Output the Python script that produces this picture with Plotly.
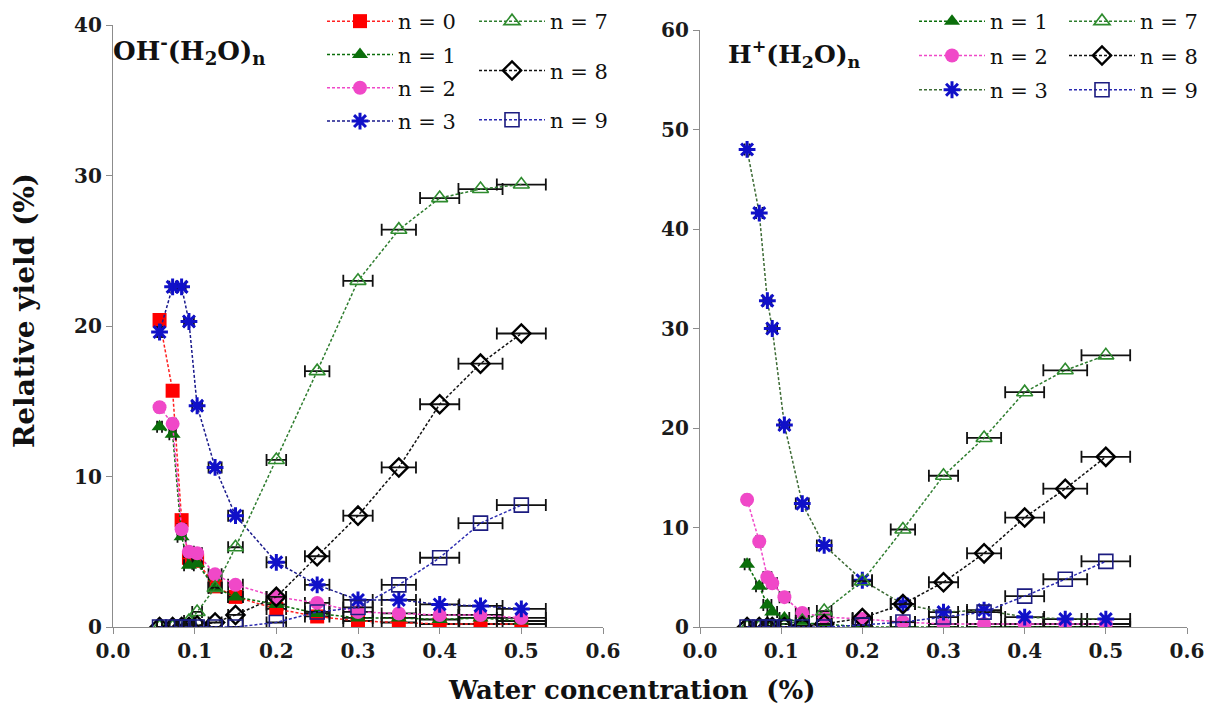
import plotly.graph_objects as go

# ---------------- data ----------------
x_left = [0.057, 0.073, 0.084, 0.093, 0.103, 0.125, 0.15, 0.2, 0.25, 0.3, 0.35, 0.4, 0.45, 0.5]
x_right = [0.058, 0.073, 0.083, 0.089, 0.104, 0.126, 0.153, 0.2, 0.25, 0.3, 0.35, 0.4, 0.45, 0.5]
x_err = [0.003, 0.004, 0.005, 0.006, 0.006, 0.008, 0.009, 0.012, 0.015, 0.018, 0.021, 0.024, 0.027, 0.03]

oh_n0 = [20.4, 15.7, 7.1, 4.6, 4.4, 2.7, 2.0, 1.2, 0.7, 0.4, 0.3, 0.2, 0.2, 0.2]
oh_n1 = [13.3, 12.8, 6.0, 4.1, 4.2, 2.6, 2.0, 1.5, 0.9, 0.6, 0.6, 0.5, 0.6, 0.4]
oh_n2 = [14.6, 13.5, 6.5, 5.0, 4.9, 3.5, 2.8, 2.0, 1.6, 1.0, 0.9, 0.8, 0.8, 0.6]
oh_n3 = [19.6, 22.6, 22.6, 20.3, 14.7, 10.6, 7.4, 4.3, 2.8, 1.8, 1.8, 1.5, 1.4, 1.2]
oh_n7 = [0.0, 0.0, 0.1, 0.4, 1.0, 2.6, 5.3, 11.1, 17.0, 23.0, 26.4, 28.5, 29.1, 29.4]
oh_n8 = [0.0, 0.0, 0.0, 0.0, 0.1, 0.3, 0.8, 2.0, 4.7, 7.4, 10.6, 14.8, 17.5, 19.5]
oh_n9 = [0.0, 0.0, 0.0, 0.0, 0.0, 0.0, 0.0, 0.3, 1.0, 1.3, 2.8, 4.6, 6.9, 8.1]

h_n1 = [6.3, 4.1, 2.2, 1.5, 0.9, 0.4, 0.3, 0.0, 0.0, 0.0, 0.0, 0.0, 0.0, 0.0]
h_n2 = [12.8, 8.6, 5.0, 4.4, 3.0, 1.4, 1.0, 0.8, 0.5, 0.3, 0.3, 0.3, 0.3, 0.3]
h_n3 = [48.0, 41.6, 32.8, 30.0, 20.3, 12.4, 8.2, 4.7, 2.3, 1.5, 1.7, 1.0, 0.8, 0.8]
h_n7 = [0.0, 0.0, 0.0, 0.1, 0.3, 0.6, 1.6, 4.6, 9.8, 15.2, 19.0, 23.6, 25.8, 27.3]
h_n8 = [0.0, 0.0, 0.0, 0.0, 0.0, 0.1, 0.3, 0.9, 2.3, 4.5, 7.4, 11.0, 13.9, 17.1]
h_n9 = [0.0, 0.0, 0.0, 0.0, 0.0, 0.0, 0.0, 0.2, 0.5, 1.0, 1.5, 3.1, 4.8, 6.6]

labels = ["n = 0", "n = 1", "n = 2", "n = 3", "n = 7", "n = 8", "n = 9"]

# ---------------- styles ----------------
FONT = "DejaVu Serif"
W, H = 1226, 715

style = {
    "n = 0": dict(symbol="square", color="#ff0000", line="#ff2020", lw=0),
    "n = 1": dict(symbol="triangle-up", color="#0b6e0b", line="#0b6e0b", lw=0),
    "n = 2": dict(symbol="circle", color="#f048c8", line="#f048c8", lw=0),
    "n = 3": dict(symbol="asterisk-open", color="#1010c8", line="#1a1a8c", lw=3),
    "n = 7": dict(symbol="triangle-up-open", color="#2e8b2e", line="#2e7d2e", lw=1.6),
    "n = 8": dict(symbol="diamond-open", color="#000000", line="#111111", lw=2.4),
    "n = 9": dict(symbol="square-open", color="#1c1c80", line="#2a2ab0", lw=1.6),
}

fig = go.Figure()


def add(xv, yv, lab, xa, ya, legend, group, line_color=None):
    s = style[lab]
    fig.add_trace(go.Scatter(
        x=xv, y=yv, mode="lines+markers", name=lab,
        xaxis=xa, yaxis=ya, legend=legend, legendgroup=group,
        line=dict(color=line_color or s["line"], width=1.5, dash="3px,2px"),
        marker=dict(symbol=s["symbol"], size=14, color=s["color"],
                    line=dict(color=s["color"], width=s["lw"])),
        error_x=dict(type="data", array=x_err, visible=True, color="#111111",
                     thickness=1.8, width=6),
    ))


left_series = [oh_n0, oh_n1, oh_n2, oh_n3, oh_n7, oh_n8, oh_n9]
for i, (lab, vals) in enumerate(zip(labels, left_series)):
    leg = "legend" if i < 4 else "legend2"
    add(x_left, vals, lab, "x", "y", leg, "L" + lab)

right_series = [h_n1, h_n2, h_n3, h_n7, h_n8, h_n9]
for i, (lab, vals) in enumerate(zip(labels[1:], right_series)):
    leg = "legend3" if i < 3 else "legend4"
    lc = "#3d6b35" if lab == "n = 3" else None
    add(x_right, vals, lab, "x2", "y2", leg, "R" + lab, line_color=lc)


def px_x(p):
    return p / W


def px_y(p):
    return 1 - p / H


tick_font = dict(family=FONT, size=20, color="#1a1a1a", weight="bold")
axis_common = dict(showgrid=False, zeroline=False, showline=True, linecolor="#8c8c8c",
                   linewidth=1.2, ticks="outside", ticklen=6, tickcolor="#8c8c8c",
                   tickfont=tick_font, automargin=False)

leg_common = dict(font=dict(family=FONT, size=21, color="#111111"), bgcolor="rgba(0,0,0,0)",
                  traceorder="grouped", itemwidth=66, xanchor="left", yanchor="top",
                  borderwidth=0)

fig.update_layout(
    width=W, height=H,
    margin=dict(l=0, r=0, t=0, b=0, autoexpand=False),
    paper_bgcolor="white", plot_bgcolor="white",
    xaxis=dict(domain=[px_x(105), px_x(595)], range=[0, 0.6], dtick=0.1, tickformat=".1f",
               anchor="y", **axis_common),
    yaxis=dict(domain=[px_y(619), px_y(17)], range=[0, 40], dtick=10, anchor="x", **axis_common),
    xaxis2=dict(domain=[px_x(692), px_x(1179)], range=[0, 0.6], dtick=0.1, tickformat=".1f",
                anchor="y2", **axis_common),
    yaxis2=dict(domain=[px_y(619), px_y(22)], range=[0, 60], dtick=10, anchor="x2", **axis_common),
    legend=dict(x=px_x(314), y=px_y(-7), tracegroupgap=3, **leg_common),
    legend2=dict(x=px_x(466), y=px_y(-7), tracegroupgap=19, **leg_common),
    legend3=dict(x=px_x(906), y=px_y(-7), tracegroupgap=4, **leg_common),
    legend4=dict(x=px_x(1056), y=px_y(-7), tracegroupgap=4, **leg_common),
    annotations=[
        dict(text="<b>OH<sup>-</sup>(H<sub>2</sub>O)<sub>n</sub></b>", x=px_x(103), y=px_y(42),
             xref="paper", yref="paper", xanchor="left", yanchor="middle", showarrow=False,
             font=dict(family=FONT, size=26, color="#111111")),
        dict(text="<b>H<sup>+</sup>(H<sub>2</sub>O)<sub>n</sub></b>", x=px_x(718), y=px_y(46),
             xref="paper", yref="paper", xanchor="left", yanchor="middle", showarrow=False,
             font=dict(family=FONT, size=25, color="#111111")),
        dict(text="<b>Relative yield (%)</b>", x=px_x(17), y=px_y(303), textangle=-90,
             xref="paper", yref="paper", xanchor="center", yanchor="middle", showarrow=False,
             font=dict(family=FONT, size=28, color="#111111")),
        dict(text="<b>Water concentration  (%)</b>", x=px_x(624), y=px_y(682),
             xref="paper", yref="paper", xanchor="center", yanchor="middle", showarrow=False,
             font=dict(family=FONT, size=26, color="#111111")),
    ],
)

fig.write_html("out.html")
